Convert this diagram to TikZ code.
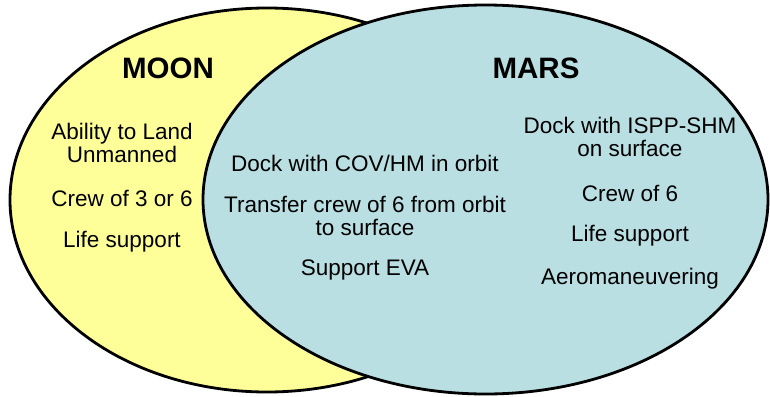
\documentclass[tikz,border=0pt]{standalone}
\usepackage{fontspec}
\setmainfont{Liberation Sans}
\begin{document}
\begin{tikzpicture}[x=1pt,y=-1pt,
  set/.style={draw=black,line width=2.8pt},
  title/.style={font=\fontsize{29.5}{32}\selectfont\bfseries,inner sep=0pt},
  item/.style={font=\fontsize{22.5}{23}\selectfont,align=center,inner sep=0pt}]
\useasboundingbox (0,0) rectangle (770,396);
\definecolor{moonfill}{HTML}{FFFF99}
\definecolor{marsfill}{HTML}{B9DFE3}
% the two sets
\draw[set,fill=moonfill] (267,200) ellipse [x radius=257,y radius=192];
\draw[set,fill=marsfill] (485.5,199.5) ellipse [x radius=282.5,y radius=194.5];
% titles
\node[title] (moon) at (168,68) {MOON};
\node[title] (mars) at (536,68) {MARS};
% moon only
\node[item] (m1) at (122,143) {Ability to Land\\Unmanned};
\node[item] (m2) at (122,198) {Crew of 3 or 6};
\node[item] (m3) at (122,242) {Life support};
% shared
\node[item] (s1) at (365,163) {Dock with COV/HM in orbit};
\node[item] (s2) at (365,216) {Transfer crew of 6 from orbit\\to surface};
\node[item] (s3) at (365,270) {Support EVA};
% mars only
\node[item] (r1) at (630,137) {Dock with ISPP-SHM\\on surface};
\node[item] (r2) at (630,193) {Crew of 6};
\node[item] (r3) at (630,236) {Life support};
\node[item] (r4) at (630,279) {Aeromaneuvering};
\end{tikzpicture}
\end{document}
